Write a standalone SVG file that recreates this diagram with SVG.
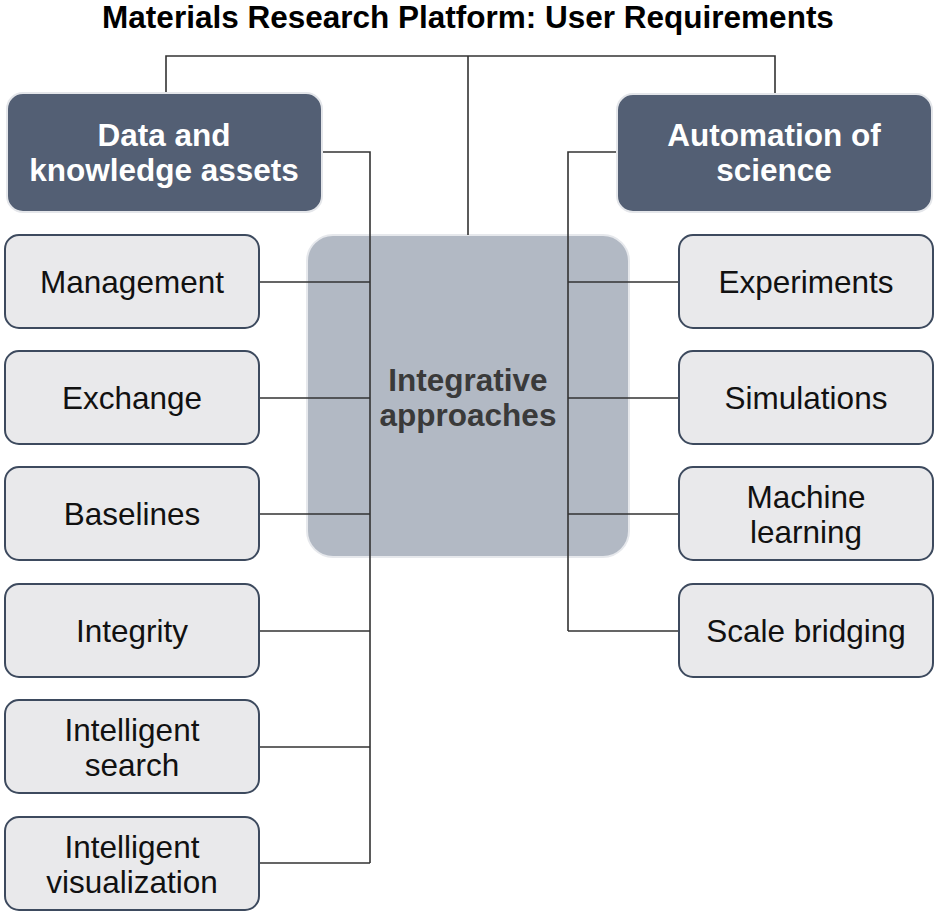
<svg xmlns="http://www.w3.org/2000/svg" width="937" height="916" viewBox="0 0 937 916">
<style>
.hdr{fill:#535f74;stroke:#e4e6ea;stroke-width:2}
.box{fill:#e9e9eb;stroke:#3d4a5e;stroke-width:2}
.ctr{fill:#b2b9c4;stroke:#e6e8ec;stroke-width:2}
.ht{font-family:"Liberation Sans",Arial,sans-serif;font-weight:bold;font-size:31.5px;fill:#ffffff;text-anchor:middle}
.bt{font-family:"Liberation Sans",Arial,sans-serif;font-size:31.5px;fill:#111111;text-anchor:middle}
.ct{font-family:"Liberation Sans",Arial,sans-serif;font-weight:bold;font-size:31.5px;fill:#3a3a3a;text-anchor:middle}
.title{font-family:"Liberation Sans",Arial,sans-serif;font-weight:bold;font-size:31.5px;fill:#000;text-anchor:middle}
.ln{stroke:#333;stroke-width:1.6;fill:none}
</style>
<rect width="937" height="916" fill="#ffffff"/>
<text class="title" x="468" y="28">Materials Research Platform: User Requirements</text>

<g id="center">
<rect class="ctr" x="307" y="235" width="322" height="322" rx="26"/>
<text class="ct" x="468" y="391">Integrative</text>
<text class="ct" x="468" y="426">approaches</text>
</g>

<g id="connectors">
<path class="ln" d="M166 93 V56 H775 V94 M468 56 V235"/>
<path class="ln" d="M322 152 H370 V863"/>
<path class="ln" d="M259 282 H370 M259 398 H370 M259 514 H370 M259 631 H370 M259 747 H370 M259 863 H370"/>
<path class="ln" d="M617 152 H568 V631"/>
<path class="ln" d="M679 282 H568 M679 398 H568 M679 514 H568 M679 631 H568"/>
</g>

<g id="data-assets">
<rect class="hdr" x="7" y="93" width="315" height="119" rx="16"/>
<text class="ht" x="164" y="146">Data and</text>
<text class="ht" x="164" y="181">knowledge assets</text>
</g>
<g id="automation">
<rect class="hdr" x="617" y="94" width="315" height="118" rx="16"/>
<text class="ht" x="774" y="146">Automation of</text>
<text class="ht" x="774" y="181">science</text>
</g>

<g id="management"><rect class="box" x="5" y="235" width="254" height="93" rx="14"/><text class="bt" x="132" y="293">Management</text></g>
<g id="exchange"><rect class="box" x="5" y="351" width="254" height="93" rx="14"/><text class="bt" x="132" y="409">Exchange</text></g>
<g id="baselines"><rect class="box" x="5" y="467" width="254" height="93" rx="14"/><text class="bt" x="132" y="525">Baselines</text></g>
<g id="integrity"><rect class="box" x="5" y="584" width="254" height="93" rx="14"/><text class="bt" x="132" y="642">Integrity</text></g>
<g id="intelligent-search"><rect class="box" x="5" y="700" width="254" height="93" rx="14"/><text class="bt" x="132" y="741">Intelligent</text><text class="bt" x="132" y="776">search</text></g>
<g id="intelligent-visualization"><rect class="box" x="5" y="817" width="254" height="93" rx="14"/><text class="bt" x="132" y="858">Intelligent</text><text class="bt" x="132" y="893">visualization</text></g>

<g id="experiments"><rect class="box" x="679" y="235" width="254" height="93" rx="14"/><text class="bt" x="806" y="293">Experiments</text></g>
<g id="simulations"><rect class="box" x="679" y="351" width="254" height="93" rx="14"/><text class="bt" x="806" y="409">Simulations</text></g>
<g id="machine-learning"><rect class="box" x="679" y="467" width="254" height="93" rx="14"/><text class="bt" x="806" y="508">Machine</text><text class="bt" x="806" y="543">learning</text></g>
<g id="scale-bridging"><rect class="box" x="679" y="584" width="254" height="93" rx="14"/><text class="bt" x="806" y="642">Scale bridging</text></g>
</svg>
